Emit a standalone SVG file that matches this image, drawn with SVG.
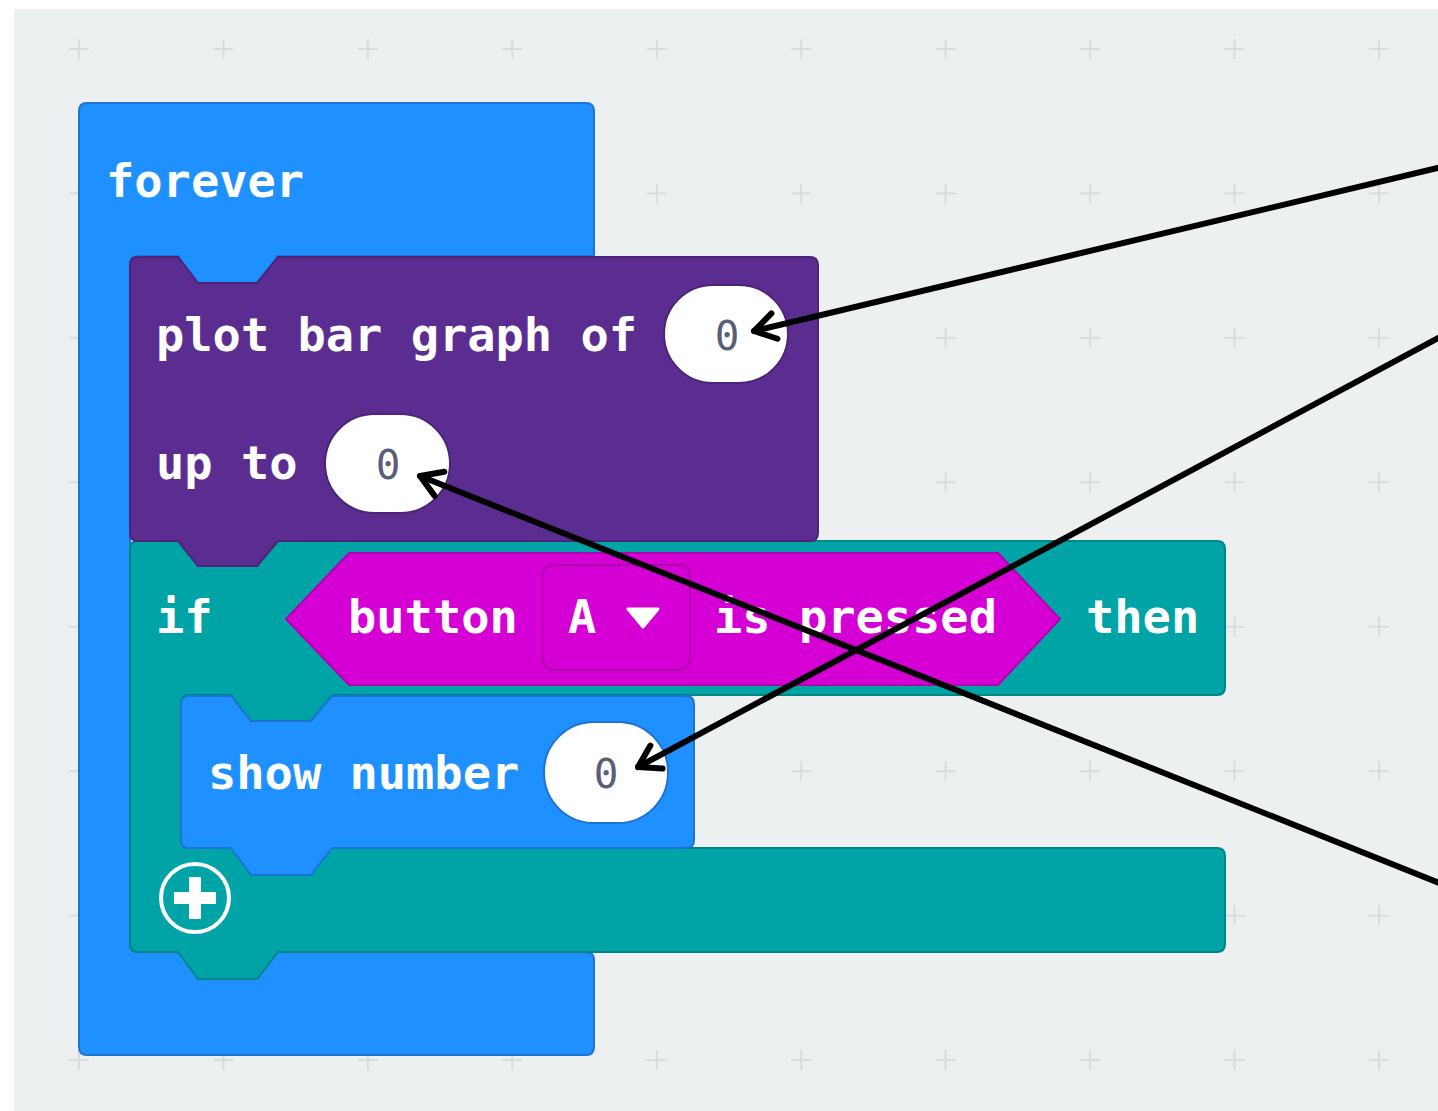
<svg xmlns="http://www.w3.org/2000/svg" width="1438" height="1111" viewBox="0 0 1438 1111">
<defs>
<style>
.lbl{font-family:"DejaVu Sans Mono","Liberation Mono",monospace;font-size:47px;font-weight:bold;fill:#ffffff}
.num{font-family:"DejaVu Sans Mono","Liberation Mono",monospace;font-size:41px;fill:#575e75;text-anchor:middle}
.blue{fill:#1e90ff;stroke:#1b74d2;stroke-width:2}
.purple{fill:#5c2d91;stroke:#4b2477;stroke-width:2}
.teal{fill:#00a4a6;stroke:#008587;stroke-width:2}
.mag{fill:#d400d4;stroke:#b000b0;stroke-width:2}
.oval{fill:#ffffff;stroke-width:2}
.conn{fill:none;stroke:#000;stroke-width:6;stroke-linecap:round}
</style>
<pattern id="grid" patternUnits="userSpaceOnUse" x="67" y="37" width="144.45" height="144.45">
<path d="M2,12 H22 M12,2 V22" stroke="#d8dce0" stroke-width="2"/>
</pattern>
<marker id="ah" markerUnits="userSpaceOnUse" markerWidth="60" markerHeight="60" viewBox="-30 -30 60 60" refX="0" refY="0" orient="auto">
<path d="M-21,-13 L0,0 L-21,13" fill="none" stroke="#000" stroke-width="6" stroke-linecap="round" stroke-linejoin="round"/>
</marker>
</defs>
<rect x="0" y="0" width="1438" height="1111" fill="#ffffff"/>
<rect x="14" y="9" width="1424" height="1102" fill="#ecf0f1"/>
<rect x="14" y="9" width="1424" height="1102" fill="url(#grid)"/>

<g id="forever">
<path class="blue" d="M87,103 H586 Q594,103 594,111 V256 H278 L257,283 H198 L178,256 H138 Q130,256 130,264 V944 Q130,952 138,952 H586 Q594,952 594,960 V1047 Q594,1055 586,1055 H87 Q79,1055 79,1047 V111 Q79,103 87,103 Z"/>
<text class="lbl" x="106" y="197">forever</text>
</g>

<g id="if-block">
<path class="teal" d="M138,541 H178 L198,566 H257 L278,541 H1217 Q1225,541 1225,549 V687 Q1225,695 1217,695 H332 L311,721 H251 L231,695 H189 Q181,695 181,703 V840 Q181,848 189,848 H1217 Q1225,848 1225,856 V944 Q1225,952 1217,952 H278 L257,979 H198 L178,952 H138 Q130,952 130,944 V549 Q130,541 138,541 Z"/>
<text class="lbl" x="156" y="633">if</text>
<text class="lbl" x="1086" y="633">then</text>
<g id="plus">
<circle cx="195" cy="898" r="34" fill="none" stroke="#ffffff" stroke-width="4"/>
<path d="M195,877 V919 M174,898 H216" stroke="#ffffff" stroke-width="12"/>
</g>
</g>

<g id="button-pressed">
<path class="mag" d="M286,619 L349,553 H998 L1060,619 L998,685 H349 Z"/>
<text class="lbl" x="348" y="633">button</text>
<rect x="543" y="565" width="147" height="105" rx="10" fill="#d400d4" stroke="#b000b0" stroke-width="2"/>
<text class="lbl" x="568" y="633">A</text>
<path d="M628,609 H658 L643,627 Z" fill="#ffffff" stroke="#ffffff" stroke-width="3" stroke-linejoin="round"/>
<text class="lbl" x="714" y="633">is pressed</text>
</g>

<g id="plot-bar-graph">
<path class="purple" d="M138,257 H178 L198,283 H257 L278,257 H810 Q818,257 818,265 V533 Q818,541 810,541 H278 L257,566 H198 L178,541 H138 Q130,541 130,533 V265 Q130,257 138,257 Z"/>
<text class="lbl" x="156" y="351">plot bar graph of</text>
<text class="lbl" x="156" y="479">up to</text>
<rect class="oval" x="664" y="285" width="124" height="98" rx="49" stroke="#4b2477"/>
<text class="num" x="727" y="350">0</text>
<rect class="oval" x="325" y="414" width="125" height="99" rx="49.5" stroke="#4b2477"/>
<text class="num" x="388" y="479">0</text>
</g>

<g id="show-number">
<path class="blue" d="M189,696 H231 L251,721 H311 L332,696 H686 Q694,696 694,704 V840 Q694,848 686,848 H332 L311,875 H251 L231,848 H189 Q181,848 181,840 V704 Q181,696 189,696 Z"/>
<text class="lbl" x="208" y="789">show number</text>
<rect class="oval" x="544" y="722" width="124" height="101" rx="50" stroke="#1b74d2"/>
<text class="num" x="606" y="788">0</text>
</g>

<g id="connectors">
<path class="conn" d="M1442,167 L754,331" marker-end="url(#ah)"/>
<path class="conn" d="M1442,336 L638,767" marker-end="url(#ah)"/>
<path class="conn" d="M1442,884 L420,476" marker-end="url(#ah)"/>
</g>
</svg>
